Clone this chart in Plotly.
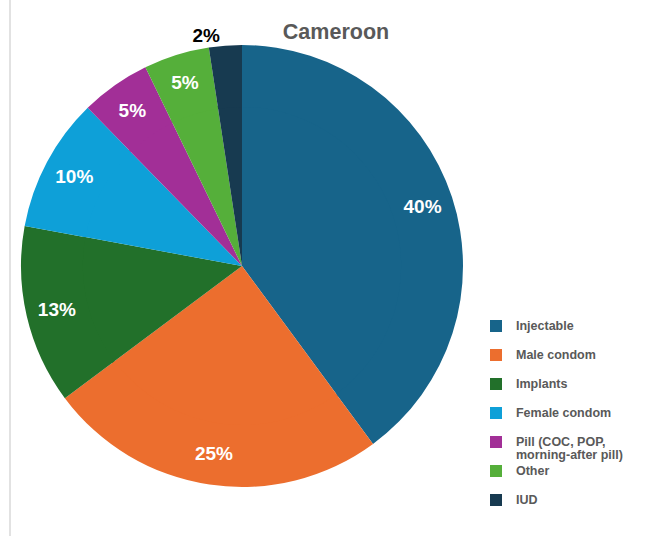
import plotly.graph_objects as go

categories = ["Injectable", "Male condom", "Implants", "Female condom",
              "Pill (COC, POP,<br>morning-after pill)", "Other", "IUD"]
values = [39.9, 24.9, 13.1, 9.8, 5.1, 4.8, 2.4]
colors = ["#17648a", "#ec6e2e", "#22702a", "#0ea0d8", "#a22f97", "#55af3a", "#173a50"]
text_positions = ["inside"] * 6 + ["outside"]
text_colors = ["white"] * 6 + ["black"]

W, H = 662, 536
CX, CY, R = 242, 266, 221   # pie centre / radius in pixels
HOLE = 0.72


def legend_label(c):
    lines = c.split("<br>")
    if len(lines) == 1:
        lines.append(" ")
    return "<br>".join(f"<span style='font-size:12.5px'>{t}</span>" for t in lines)


labels = [legend_label(c) for c in categories]


def dom(cx, cy, r):
    return dict(x=[(cx - r) / W, (cx + r) / W], y=[1 - (cy + r) / H, 1 - (cy - r) / H])


fig = go.Figure()
# filled centre of the pie (same data) under the labelled ring
rin = R * HOLE + 3
fig.add_trace(go.Pie(
    labels=labels, values=values, sort=False, direction="clockwise", rotation=0,
    marker=dict(colors=colors, line=dict(width=0)),
    textinfo="none", showlegend=False, hoverinfo="skip",
    domain=dom(CX, CY, rin),
))
fig.add_trace(go.Pie(
    labels=labels,
    values=values,
    sort=False,
    direction="clockwise",
    rotation=0,
    hole=HOLE,
    marker=dict(colors=colors, line=dict(width=0)),
    texttemplate="%{percent:.0%}",
    textposition=text_positions,
    insidetextorientation="horizontal",
    textfont=dict(family="Liberation Sans", size=19, color=text_colors, weight="bold"),
    outsidetextfont=dict(family="Liberation Sans", size=19, color="black", weight="bold"),
    domain=dom(CX, CY, R),
    hoverinfo="label+percent",
    automargin=False,
))

fig.update_layout(
    width=W, height=H,
    margin=dict(l=0, r=0, t=0, b=0),
    paper_bgcolor="white",
    plot_bgcolor="white",
    title=dict(text="<b>Cameroon</b>", x=336 / W, xanchor="center", y=1 - 31 / H, yanchor="middle",
               font=dict(family="Liberation Sans", size=21.5, color="#595959")),
    legend=dict(x=0.719, xanchor="left", y=1 - 313 / H, yanchor="top",
                valign="top", itemwidth=30,
                font=dict(family="Liberation Sans", size=10, color="#595959", weight="bold"),
                bgcolor="rgba(0,0,0,0)"),
    shapes=[dict(type="line", xref="paper", yref="paper", x0=10 / W, x1=10 / W, y0=0, y1=1,
                 line=dict(color="#d9d9d9", width=1.5))],
    showlegend=True,
)

fig.write_html("out.html", config={"displayModeBar": False},
               post_script="document.body.style.margin='0';document.body.style.overflow='hidden';")
